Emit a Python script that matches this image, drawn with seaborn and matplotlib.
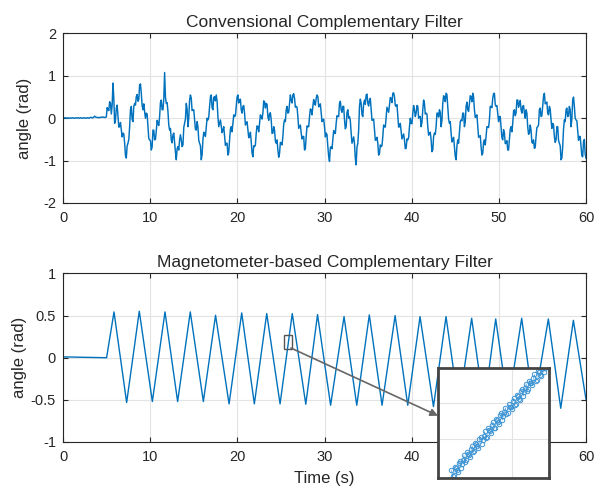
import numpy as np
import pandas as pd
import matplotlib
matplotlib.use("Agg")
import matplotlib.pyplot as plt
import seaborn as sns
from matplotlib.patches import Rectangle

sns.set_theme(style="white")
plt.rcParams["font.family"] = ["Liberation Sans", "DejaVu Sans"]
plt.rcParams["axes.unicode_minus"] = False

BLUE = "#0072BD"
TXT = "#262626"

# ---------------- data ----------------
# Conventional complementary filter: samples (uniform time base 0..60 s)
conv_y = [
    0.00, 0.01, 0.00, 0.01, 0.00, 0.00, 0.01, 0.00, 0.01, 0.01, 0.00, 0.01, 0.00,
    0.01, 0.00, 0.01, 0.01, 0.02, 0.01, 0.05, 0.02, 0.02, 0.02, 0.02, 0.03, 0.02,
    0.03, 0.2, 0.39, 0.1, 0.83, -0.12, 0.24, 0.05, -0.2, -0.28, -0.35, -0.59, -0.94,
    -0.59, -0.2, 0.28, -0.08, 0.35, 0.51, 0.4, 0.79, 0.59, 0.2, 0.15, 0.12, -0.2,
    -0.51, -0.75, -0.28, -0.51, -0.3, -0.12, 0.04, 0.43, 0.2, 1.08, 0.35, 0.16,
    -0.28, -0.51, -0.39, -0.59, -0.98, -0.67, -0.51, -0.51, -0.63,
    -0.12, 0.35, -0.2, 0.43, 0.47, 0.2, -0.04, -0.28, -0.2, -0.59, -0.98, -0.51,
    -0.35, -0.2, -0.04, 0.28, 0.55, 0.2, 0.51, 0.55, 0.04, -0.12, -0.2, -0.28,
    -0.43, -0.59, -0.87, -0.51, -0.2, -0.12, 0.04, 0.28, 0.55, 0.43, 0.2, 0.28,
    0.12, -0.12, -0.28, -0.43, -0.55, -0.91, -0.67, -0.35, -0.2, -0.12, 0.04, 0.12,
    0.39, 0.35, 0.04,
    0.1, -0.04, -0.35, -0.28, -0.59, -0.75, -0.83, -0.59, -0.43, -0.04, 0.2, 0.12,
    0.35, 0.43, 0.55, 0.47, 0.28, 0.04, -0.2, -0.35, -0.43, -0.75, -0.43, -0.2,
    0.04, 0.2, 0.28, 0.35, 0.47, 0.51, 0.28, 0.12, -0.04, -0.2, -0.35, -0.67,
    -1.02, -0.67, -0.51, -0.35, -0.12, 0.04, 0.35, 0.2, 0.28, -0.04, -0.2, 0.2,
    0.04, -0.35, -0.51,
    -0.6, -1.1, -0.59, 0.28, 0.35, 0.04, 0.43, 0.55, 0.35, 0.43, 0.2, -0.04, -0.28,
    -0.51, -0.59, -0.83, -0.67, -0.43, -0.2, 0.04, 0.2, 0.31, 0.47, 0.59, 0.51,
    0.28, 0.04, -0.2, -0.31, -0.43, -0.51, -0.71, -0.51, -0.2, -0.12, 0.12, 0.2,
    0.12, 0.28, 0.04, -0.2, 0.2, 0.35, 0.12, -0.2, -0.35, -0.51, -0.75, -0.35,
    -0.2, 0.12,
    0.2, -0.2, 0.35, 0.51, 0.59, 0.28, -0.12, -0.35, -0.51, -0.67, -0.98, -0.51,
    -0.35, -0.04, 0.12, -0.2, 0.28, 0.2, 0.35, 0.51, 0.59, 0.2, 0.04, -0.2, -0.43,
    -0.67, -0.83, -0.51, -0.43, -0.2, -0.04, 0.28, 0.47, 0.59, 0.28, 0.12, 0.04,
    -0.2, -0.51, -0.35, -0.59, -0.75, -0.51, -0.2, -0.12, 0.2, 0.12, 0.43,
    0.35, 0.2, 0.28, 0.12, 0.2, -0.2, -0.35, -0.28, -0.59, -0.71, -0.43, -0.2, 0.2,
    0.04, 0.28, 0.59, 0.35, 0.12, 0.28, -0.04, -0.12, -0.43, -0.51, -0.2, -0.59,
    -0.98, -0.67, -0.04, 0.2, 0.04, 0.28, -0.2, 0.43, 0.28, -0.04, -0.28, -0.43,
    -0.67, -0.91, -0.5, -0.95,
]
# in-between samples (noise extremes) read between the samples above
conv_mid = [
    0.0, 0.01, 0.0, 0.0, 0.01, 0.01, 0.0, 0.01, 0.0, 0.01, 0.01, 0.0, 0.01, 0.0,
    0.01, 0.0, 0.02, 0.01, 0.03, 0.03, 0.02, 0.01, 0.02, 0.03, 0.02, 0.02,
    0.25, 0.18, 0.35, 0.31, 0.47, -0.04, 0.31, -0.21, -0.1, -0.44, -0.37, -0.88,
    -0.65, -0.5, 0.2, -0.03, 0.28, 0.31, 0.56, 0.44, 0.81, 0.3, 0.34, 0.0, 0.1,
    -0.48, -0.53, -0.68, -0.28, -0.5, -0.05, -0.17, 0.37, 0.2, 0.45, 0.5, 0.37,
    -0.16, -0.24, -0.58, -0.35, -0.8, -0.72, -0.75, -0.39, -0.67, -0.22,
    -0.02, 0.22, 0.0, 0.55, 0.18, 0.2, -0.26, -0.08, -0.52, -0.65, -0.86, -0.33,
    -0.43, 0.0, 0.02, 0.5, 0.25, 0.49, 0.41, 0.4, -0.2, -0.04, -0.34, -0.2, -0.64,
    -0.59, -0.81, -0.26, -0.32, 0.08, 0.06, 0.5, 0.36, 0.45, 0.12, 0.3, -0.16,
    -0.08, -0.46, -0.33, -0.82, -0.65, -0.63, -0.18, -0.32, 0.08, -0.02, 0.41,
    0.24, 0.33, -0.05,
    0.13, -0.36, -0.2, -0.54, -0.51, -0.92, -0.57, -0.63, -0.14, -0.08, 0.28, 0.14,
    0.55, 0.36, 0.58, 0.26, 0.26, -0.24, -0.16, -0.49, -0.43, -0.72, -0.18, -0.2,
    0.22, 0.08, 0.44, 0.31, 0.55, 0.27, 0.34, -0.08, -0.02, -0.44, -0.39, -0.9,
    -0.69, -0.72, -0.29, -0.36, 0.06, 0.04, 0.4, 0.14, 0.28, -0.25, 0.14, 0.0,
    -0.06, -0.59, -0.44,
    -0.95, -0.68, -0.28, 0.45, 0.08, 0.34, 0.33, 0.57, 0.29, 0.47, -0.05, -0.02,
    -0.52, -0.45, -0.87, -0.63, -0.65, -0.16, -0.21, 0.26, 0.14, 0.49, 0.37, 0.6,
    0.3, 0.32, -0.21, -0.12, -0.49, -0.37, -0.72, -0.49, -0.46, 0.0, -0.13, 0.3,
    0.04, 0.3, 0.0, 0.04, -0.1, 0.43, 0.1, 0.1, -0.4, -0.33, -0.79, -0.43, -0.38,
    0.12, 0.03,
    0.14, -0.05, 0.53, 0.39, 0.56, -0.02, -0.08, -0.56, -0.45, -0.9, -0.65, -0.59,
    -0.08, -0.06, 0.12, -0.09, 0.38, 0.16, 0.53, 0.39, 0.5, 0.02, 0.08, -0.45,
    -0.41, -0.87, -0.57, -0.63, -0.2, -0.22, 0.28, 0.25, 0.58, 0.32, 0.3, -0.08,
    0.04, -0.46, -0.27, -0.6, -0.53, -0.75, -0.26, -0.32, 0.16, 0.06, 0.43, 0.26,
    0.42, 0.12, 0.3, 0.0, 0.12, -0.38, -0.16, -0.57, -0.51, -0.69, -0.22, -0.16,
    0.24, 0.06, 0.52, 0.34, 0.38, 0.08, 0.22, -0.24, -0.16, -0.57, -0.2, -0.52,
    -0.65, -0.94, -0.26, -0.08, 0.24, 0.06, 0.2, -0.02, 0.5, 0.0, -0.06, -0.52,
    -0.43, -0.89, -0.55, -0.85,
]

# Magnetometer-based complementary filter: vertices of the triangle wave
mag_t = [0.0, 5.0, 5.85, 7.3, 8.75, 10.25, 11.7, 13.15, 14.6, 16.1, 17.5, 19.05,
         20.5, 21.95, 23.37, 24.9, 26.3, 27.85, 29.2, 30.7, 32.24, 33.7, 35.14,
         36.6, 38.1, 39.55, 40.96, 42.5, 43.94, 45.4, 46.88, 48.3, 49.64, 51.05,
         52.62, 54.0, 55.68, 57.1, 58.55, 60.0]
mag_y = [0.01, 0.0, 0.544, -0.532, 0.552, -0.52, 0.544, -0.52, 0.544, -0.52,
         0.504, -0.548, 0.532, -0.548, 0.524, -0.548, 0.524, -0.552, 0.512,
         -0.564, 0.488, -0.564, 0.508, -0.564, 0.5, -0.564, 0.488, -0.58, 0.488,
         -0.58, 0.468, -0.58, 0.46, -0.58, 0.468, -0.58, 0.46, -0.6, 0.444, -0.496]

# zoomed samples shown in the inset (samples and in-between samples)
inset_y = [0.1066, 0.1031, 0.1081, 0.1054, 0.1124, 0.1107, 0.1160, 0.1128, 0.1167,
           0.1151, 0.1220, 0.1186, 0.1235, 0.1208, 0.1278, 0.1261, 0.1315, 0.1282,
           0.1322, 0.1305, 0.1374, 0.1340, 0.1389, 0.1363, 0.1432, 0.1416, 0.1469,
           0.1436, 0.1476, 0.1459, 0.1529, 0.1494, 0.1544, 0.1517, 0.1586, 0.1570,
           0.1623, 0.1591, 0.1630, 0.1613, 0.1683, 0.1648, 0.1698, 0.1671, 0.1741,
           0.1724, 0.1777, 0.1745, 0.1784, 0.1768]
inset_mid = [0.1026, 0.1087, 0.1065, 0.1110, 0.1079, 0.1133, 0.1116, 0.1182, 0.1163,
             0.1201, 0.1180, 0.1241, 0.1219, 0.1264, 0.1234, 0.1287, 0.1270, 0.1336,
             0.1317, 0.1355, 0.1334, 0.1396, 0.1373, 0.1418, 0.1388, 0.1441, 0.1425,
             0.1490, 0.1471, 0.1509, 0.1488, 0.1550, 0.1527, 0.1573, 0.1542, 0.1595,
             0.1579, 0.1644, 0.1626, 0.1663, 0.1642, 0.1704, 0.1681, 0.1727, 0.1696,
             0.1750, 0.1733, 0.1798, 0.1780]

x_ticks = [0, 10, 20, 30, 40, 50, 60]
top_yticks = [-2, -1, 0, 1, 2]
bot_yticks = [-1, -0.5, 0, 0.5, 1]


def interleave(a, b):
    n = min(len(b), len(a) - 1)
    out = []
    for i in range(n):
        out.append(a[i])
        out.append(b[i])
    out.extend(a[n:])
    return out


conv_all = interleave(conv_y, conv_mid)
conv_t = np.linspace(0, 60, len(conv_all))
df_conv = pd.DataFrame({"t": conv_t, "angle": conv_all})
df_mag = pd.DataFrame({"t": mag_t, "angle": mag_y})
ins_all = interleave(inset_y, inset_mid)
ins_t = 25.751 + 0.001 * np.arange(len(ins_all))

# ---------------- figure ----------------
fig = plt.figure(figsize=(5.95, 4.94), dpi=100)
ax1 = fig.add_axes([0.1059, 0.5891, 0.8790, 0.3431])
ax2 = fig.add_axes([0.1059, 0.1053, 0.8790, 0.3411])

TICK_FS = 10.5
LABEL_FS = 12
TITLE_FS = 12.5


def style(ax, yticks, ylim):
    ax.set_xlim(0, 60)
    ax.set_ylim(*ylim)
    ax.set_xticks(x_ticks)
    ax.set_yticks(yticks)
    ax.set_xticklabels([str(v) for v in x_ticks])
    ax.set_yticklabels([("%g" % v) for v in yticks])
    ax.set_axisbelow(True)
    ax.grid(True, color="#e3e3e3", linewidth=0.8)
    ax.tick_params(direction="in", bottom=True, left=True, top=True, right=True,
                   length=3.5, width=0.8, colors=TXT, labelsize=TICK_FS)
    ax.tick_params(axis="x", pad=6)
    ax.tick_params(axis="y", pad=5)
    for s in ax.spines.values():
        s.set_color(TXT)
        s.set_linewidth(0.8)


sns.lineplot(data=df_conv, x="t", y="angle", ax=ax1, color=BLUE, linewidth=1.05,
             estimator=None, sort=False)
style(ax1, top_yticks, (-2, 2))
ax1.set_title("Convensional Complementary Filter", fontsize=TITLE_FS, color=TXT, pad=5)
ax1.set_ylabel("angle (rad)", fontsize=LABEL_FS, color=TXT, labelpad=8)
ax1.set_xlabel("")

sns.lineplot(data=df_mag, x="t", y="angle", ax=ax2, color=BLUE, linewidth=1.0,
             estimator=None, sort=False)
style(ax2, bot_yticks, (-1, 1))
ax2.set_title("Magnetometer-based Complementary Filter", fontsize=TITLE_FS, color=TXT, pad=5)
ax2.set_ylabel("angle (rad)", fontsize=LABEL_FS, color=TXT, labelpad=3)
ax2.set_xlabel("Time (s)", fontsize=LABEL_FS, color=TXT, labelpad=5)

# zoom rectangle
ax2.add_patch(Rectangle((25.35, 0.107), 0.95, 0.167, fill=False,
                        edgecolor="#555555", linewidth=1.0, zorder=5))

# inset
axins = fig.add_axes([0.7361, 0.0324, 0.1866, 0.2227])
axins.set_facecolor("white")
sns.lineplot(x=ins_t, y=ins_all, ax=axins, color="#4a9bd6", linewidth=0.4,
             marker="o", markersize=3.2, markerfacecolor="none",
             markeredgecolor="#3f95d4", markeredgewidth=0.7,
             estimator=None, sort=False)
axins.set_xlim(25.738, 25.845)
axins.set_ylim(0.1014, 0.1725)
axins.set_xticks([25.809])
axins.set_yticks([0.1266, 0.1497])
axins.set_xticklabels([])
axins.set_yticklabels([])
axins.tick_params(length=0)
axins.grid(True, color="#e3e3e3", linewidth=0.8)
axins.set_axisbelow(True)
axins.set_xlabel("")
axins.set_ylabel("")
for s in axins.spines.values():
    s.set_color("#444444")
    s.set_linewidth(2.0)

# connector arrow
ax2.annotate("", xy=(0.0, 0.566), xycoords=axins.transAxes,
             xytext=(26.15, 0.115), textcoords="data",
             arrowprops=dict(arrowstyle="-|>", color="#666666", lw=1.2,
                             mutation_scale=11, shrinkA=0, shrinkB=0),
             zorder=6)

fig.savefig("out.png", dpi=100, facecolor="white")
